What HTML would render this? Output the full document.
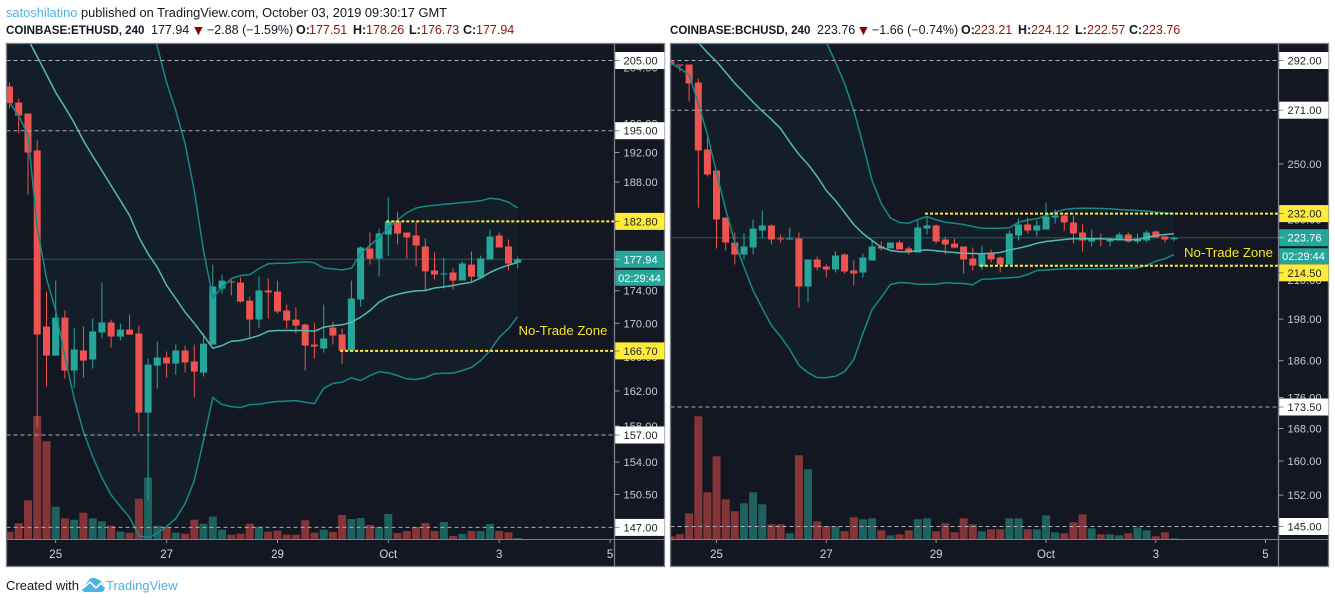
<!DOCTYPE html>
<html lang="en">
<head>
<meta charset="utf-8">
<title>ETHUSD and BCHUSD charts</title>
<style>
html,body{margin:0;padding:0;background:#fff;width:1335px;height:603px;overflow:hidden}
svg{display:block;font-family:"Liberation Sans",sans-serif}
.hd{font-size:12.5px;fill:#131722}
.hb{font-weight:bold;font-size:12.5px;fill:#131722}
.hs{font-weight:bold;font-size:11.6px;fill:#131722}
.hr{fill:#990f0f;font-size:12.5px}
.ha{fill:#8b0000;font-size:14px}
</style>
</head>
<body>
<svg id="root" width="1335" height="603" viewBox="0 0 1335 603">
  <text x="6" y="17" class="hd" style="font-size:12.85px"><tspan fill="#4db2e6">satoshilatino</tspan> published on TradingView.com, October 03, 2019 09:30:17 GMT</text>

  <g>
    <text x="6" y="34" class="hs">COINBASE:ETHUSD, 240</text>
    <text x="151" y="34" class="hd">177.94</text>
    <text x="191.5" y="35" class="ha">▼</text>
    <text x="207" y="34" class="hd">−2.88 (−1.59%)</text>
    <text x="296" y="34" class="hb">O:</text>
    <text x="309" y="34" class="hr">177.51</text>
    <text x="353" y="34" class="hb">H:</text>
    <text x="366" y="34" class="hr">178.26</text>
    <text x="409" y="34" class="hb">L:</text>
    <text x="421" y="34" class="hr">176.73</text>
    <text x="463" y="34" class="hb">C:</text>
    <text x="476" y="34" class="hr">177.94</text>
  </g>
  <g>
    <text x="670" y="34" class="hs">COINBASE:BCHUSD, 240</text>
    <text x="817" y="34" class="hd">223.76</text>
    <text x="856.5" y="35" class="ha">▼</text>
    <text x="872" y="34" class="hd">−1.66 (−0.74%)</text>
    <text x="961" y="34" class="hb">O:</text>
    <text x="974" y="34" class="hr">223.21</text>
    <text x="1018" y="34" class="hb">H:</text>
    <text x="1031" y="34" class="hr">224.12</text>
    <text x="1075" y="34" class="hb">L:</text>
    <text x="1087" y="34" class="hr">222.57</text>
    <text x="1129" y="34" class="hb">C:</text>
    <text x="1142" y="34" class="hr">223.76</text>
  </g>

  <defs>
    <clipPath id="clip-eth"><rect x="7" y="44" width="607.5" height="495"/></clipPath>
    <clipPath id="clip-bch"><rect x="671" y="44" width="607" height="495"/></clipPath>
  </defs>

  <g id="eth-chart"></g>
  <g id="bch-chart"></g>

  <text x="6" y="590" style="font-size:13px" fill="#131722">Created with</text>
  <g>
    <path d="M82 589 L88 581 Q92 576 97 579 Q103 581 105 587 Q105 592 100 592 L86 592 Q82 592 82 589 Z" fill="#4db2e6"/>
    <path d="M82 589 L90 582 L96 588 L101 583 L105 587" fill="none" stroke="#fff" stroke-width="1.6"/>
  </g>
  <text x="106" y="590" style="font-size:13px" fill="#4db2e6">TradingView</text>
</svg>

<script>
// ---------- ETHUSD data ----------
const ethOpen  = [201.24,198.96,197.41,192.27,169.61,166.14,170.70,164.38,166.74,165.67,168.89,170.10,168.41,169.25,168.77,159.53,164.96,165.91,165.20,166.74,165.44,164.15,167.45,174.27,175.14,175.01,172.78,170.46,174.02,173.90,171.56,170.46,169.85,167.45,166.98,169.49,168.65,166.74,172.90,179.31,178.03,181.10,182.78,181.36,180.97,179.56,176.52,176.02,176.27,175.26,177.27,175.64,177.91,180.97,179.56,177.51];
const ethClose = [198.86,197.12,192.00,168.65,166.14,170.70,164.38,166.86,165.55,169.01,170.10,168.41,169.25,168.65,159.53,165.08,165.91,165.20,166.74,165.32,164.26,167.57,174.51,175.26,175.01,172.66,170.46,174.02,173.77,171.44,170.34,169.73,167.33,167.21,168.17,168.53,166.74,173.03,179.43,178.03,181.23,182.78,181.23,180.72,179.69,176.40,176.02,176.14,175.26,177.40,175.76,178.03,180.84,179.43,177.40,177.94];
const ethHigh  = [201.81,199.53,197.41,193.64,173.90,175.26,171.56,169.49,169.61,170.58,175.01,170.46,169.98,171.07,169.73,165.79,167.81,166.62,167.45,167.33,167.45,168.77,177.28,176.02,175.39,175.64,173.27,175.76,175.51,175.26,172.29,171.92,169.98,170.10,172.29,170.22,169.37,175.26,179.56,181.36,181.88,185.94,184.09,181.36,182.78,180.59,178.80,178.16,176.77,177.65,178.92,178.41,181.75,181.36,180.46,178.26];
const ethLow   = [198.11,194.62,186.34,157.84,162.51,166.14,163.44,162.40,163.56,164.61,168.17,167.10,167.93,168.65,157.28,149.84,162.28,163.56,163.91,164.15,161.24,163.68,167.45,173.65,173.40,172.54,168.29,169.49,170.58,171.20,169.37,168.77,164.38,165.79,166.50,167.45,165.20,166.74,172.05,177.27,175.76,178.41,179.82,178.03,177.02,173.90,175.39,174.27,174.14,175.26,175.14,175.64,177.91,179.43,176.52,176.73];
const ethVolume = [730,1570,3870,12300,9770,3230,2070,1930,2630,2070,1770,1330,730,630,4030,6130,1330,1130,630,530,1930,1530,2230,930,430,530,1530,1230,730,830,430,430,1870,630,930,700,2400,2000,2100,1400,1200,2500,600,800,1200,1600,800,1700,300,500,800,800,1500,800,670,100];
const ethUpper = [null,null,null,null,null,null,null,null,null,null,null,null,null,null,null,212.4,207.05,201.81,197.83,193.2,186.87,179.05,173.15,174.39,175.51,175.89,175.98,176.77,177.36,177.44,177.44,177.53,177.62,177.49,176.85,176.72,176.6,176.8,178.65,179.69,180.76,181.96,183.0,183.94,184.55,184.78,184.92,185.05,185.15,185.28,185.37,185.5,185.83,185.7,185.33,184.55];
const ethMiddle = [null,null,208.1,205.58,202.97,200.38,198.3,196.1,193.64,191.5,189.55,187.53,185.54,183.57,180.75,178.62,176.93,174.66,173.02,171.36,170.0,168.53,167.02,167.33,167.85,167.93,168.2,168.53,169.05,169.13,169.13,169.13,169.13,169.05,169.53,169.73,169.82,170.13,170.74,171.56,172.59,173.21,173.55,173.8,173.97,174.02,174.34,174.47,174.65,174.87,175.06,175.58,176.28,176.8,177.2,177.54];
const ethLower = [198.92,197.12,194.33,182.03,175.51,171.56,166.0,161.13,157.39,154.6,152.3,150.45,149.2,148.04,146.14,145.93,146.4,147.1,147.93,149.52,151.99,156.38,161.24,160.44,160.21,160.1,160.44,160.47,160.67,160.79,160.84,160.9,160.7,160.56,162.32,162.87,163.02,163.53,163.21,163.79,164.23,164.11,163.79,163.41,163.33,163.56,164.0,164.06,164.07,164.38,164.74,165.55,166.74,168.29,169.37,170.81];
const ethPriceTicks = [204,196,192,188,174,170,166,162,158,154,150.5];
const ethLevels = [205,195,157,147];
const ethZonePrices = [182.8,166.7];
const ethZoneStarts = [41,36];
const ethLastPrice = 177.94;
const ethCountdown = '02:29:44';

// ---------- BCHUSD data ----------
const bchOpen  = [291.56,290.25,290.25,282.50,255.45,247.52,230.64,222.14,218.18,220.48,226.19,227.89,223.48,223.14,223.48,207.93,216.54,214.28,213.32,218.18,213.00,212.36,216.22,220.81,220.15,222.14,220.15,218.83,226.87,227.89,223.14,221.80,220.81,216.87,214.28,218.50,217.20,214.93,224.50,228.24,226.19,226.53,230.64,231.35,228.92,225.51,222.47,223.48,222.47,222.81,224.84,222.47,222.81,225.85,224.16,223.21];
const bchClose = [290.25,289.82,282.07,255.07,246.04,229.95,222.14,218.18,220.81,226.87,227.89,223.14,223.14,223.48,207.93,216.54,213.96,213.32,217.85,212.68,212.04,217.20,220.81,220.15,222.14,219.82,218.83,227.21,227.89,222.47,221.47,220.48,216.54,214.61,218.18,216.54,214.93,225.17,228.24,226.19,227.89,231.00,231.35,228.92,225.17,222.81,223.48,223.14,223.48,224.84,222.47,223.48,225.51,223.81,223.14,223.76];
const bchHigh  = [292.00,290.25,290.25,284.20,260.10,247.52,230.64,225.51,225.17,229.95,233.09,228.24,224.84,227.21,225.51,216.54,217.52,214.93,219.16,218.50,216.22,218.50,223.14,222.47,222.14,222.81,220.81,229.61,231.00,228.24,224.16,223.48,220.81,220.48,221.14,219.82,217.52,226.19,230.29,230.64,229.61,235.91,233.44,232.04,231.35,228.24,226.53,225.17,223.81,225.51,225.51,225.17,226.19,226.19,224.50,224.12];
const bchLow   = [289.82,287.22,274.56,234.14,245.31,220.15,219.49,214.93,216.54,218.18,223.48,221.47,222.14,223.14,201.48,203.00,213.00,210.77,212.36,212.04,208.25,210.77,216.22,219.49,220.15,219.82,218.18,218.83,224.84,221.80,218.18,220.15,212.04,213.00,213.32,215.58,212.36,214.93,222.81,225.17,224.16,226.53,228.58,226.19,221.80,219.16,220.81,220.81,220.81,222.81,222.14,221.80,222.14,223.81,222.14,222.57];
const bchVolume = [270,470,2570,12270,4670,8270,3970,2770,3570,4670,3470,1470,1470,570,8370,6970,1770,1270,1270,770,2170,1970,2070,870,370,470,870,1970,2070,770,1570,670,2070,1470,770,970,970,2070,2070,970,970,2370,670,570,1670,2470,1070,470,470,370,570,1170,870,270,670,70];
const bchUpper = [null,null,null,null,null,null,null,null,null,null,null,null,null,null,null,null,null,300.1,291.26,282.07,270.87,257.6,243.83,235.54,230.53,228.92,228.68,229.95,231.0,229.84,229.02,228.68,228.24,227.55,226.97,226.97,226.97,227.1,229.02,229.78,230.19,231.35,232.5,233.44,233.79,233.9,233.9,233.79,233.69,233.44,233.26,233.09,232.9,232.5,232.2,231.93];
const bchMiddle = [null,null,null,300,295.5,291.56,286.9,282.2,278.3,274.3,270.6,267.3,263.6,258.3,253.6,249.8,245.3,240.2,236.6,232.4,228.24,225.17,222.81,220.6,219.49,219.06,219.06,219.4,219.7,219.4,219.06,218.83,218.6,218.5,218.4,218.6,218.83,219.6,220.26,220.98,221.9,222.47,222.81,223.14,223.38,223.38,223.38,223.38,223.25,223.14,223.04,223.04,223.9,224.5,224.84,225.07];
const bchLower = [290.82,288.52,285.76,273.7,261.25,246.8,233.44,222.14,214.09,206.69,201.18,196.14,192.88,189.14,184.76,182.7,181.34,181.34,181.7,182.98,186.32,193.75,200.87,204.6,208.57,209.2,209.04,208.66,208.66,208.66,209.1,208.97,208.88,208.47,210.23,210.29,210.54,210.67,210.86,211.72,213.0,213.16,213.32,213.54,213.54,213.54,213.54,213.54,213.54,213.64,213.74,213.87,214.61,216.0,216.78,218.18];
const bchPriceTicks = [250,230,210,198,186,176,168,160,152];
const bchLevels = [292,271,173.5,145];
const bchZonePrices = [232,214.5];
const bchZoneStarts = [28,34];
const bchLastPrice = 223.76;
const bchCountdown = '02:29:44';

// ---------- shared time axis ----------
const dateLabels = ['25','27','29','Oct','3','5'];
const dateBarIndex = [5,17,29,41,53,65];

const zoneLabel = 'No-Trade Zone';

// ---------- axis functions ----------
function yEth(p){ return 60.5 + 1404 * Math.log(205 / p); }
function xEth(i){ return 9.5 + 9.24 * i; }
function yBch(p){ return 60.5 + 665.7 * Math.log(292 / p); }
function xBch(i){ return 670.8 + 9.15 * i; }
function yVolume(v){ return 539 - v / 100; }

const NS = 'http://www.w3.org/2000/svg';
function node(parent, tag, attrs, txt){
  const el = document.createElementNS(NS, tag);
  for (const k in attrs) el.setAttribute(k, attrs[k]);
  if (txt !== undefined) el.textContent = txt;
  parent.appendChild(el);
  return el;
}
function linePath(vals, x, y){
  let d = '';
  vals.forEach(function(v, i){
    if (v === null) return;
    d += (d ? 'L' : 'M') + x(i).toFixed(1) + ' ' + y(v).toFixed(1);
  });
  return d;
}
function bandFill(up, low, x, y, top){
  let d = 'M' + (x(0) - 4).toFixed(1) + ' ' + top;
  up.forEach(function(v, i){
    const py = v === null ? top : y(v);
    d += 'L' + x(i).toFixed(1) + ' ' + py.toFixed(1);
  });
  for (let i = low.length - 1; i >= 0; i--) {
    d += 'L' + x(i).toFixed(1) + ' ' + y(low[i]).toFixed(1);
  }
  d += 'L' + (x(0) - 4).toFixed(1) + ' ' + y(low[0]).toFixed(1);
  return d + 'Z';
}

function drawChart(c){
  const root = document.getElementById(c.id);

  const bg = node(root, 'rect', {x:c.left, y:43.5, width:c.right - c.left, height:523, fill:'#131722'});
  
  

  const plot = node(root, 'g', {'clip-path':'url(#' + c.clip + ')'});
  
  

  const fill = node(plot, 'path', {d:bandFill(c.upper, c.lower, c.x, c.y, 40), fill:'#131e28'});
  
  

  c.volume.forEach(function(v, i){
    const up = c.close[i] >= c.open[i];
    const bar = node(plot, 'rect', {x:(c.x(i) - 4).toFixed(1), y:yVolume(v).toFixed(1), width:8, height:(539 - yVolume(v)).toFixed(1), fill: up ? '#1f615f' : '#853537'});
    
    
  });

  const last = node(plot, 'line', {x1:c.left, x2:c.axis, y1:c.y(c.lastPrice), y2:c.y(c.lastPrice), stroke:'#235c5c', 'stroke-width':1});
  
  

  c.open.forEach(function(o, i){
    const up = c.close[i] >= o;
    const col = up ? '#26a69a' : '#ef5350';
    const wick = node(plot, 'line', {x1:c.x(i).toFixed(1), x2:c.x(i).toFixed(1), y1:c.y(c.high[i]).toFixed(1), y2:c.y(c.low[i]).toFixed(1), stroke:col, 'stroke-width':1});
    
    
    const top = c.y(Math.max(o, c.close[i]));
    const bot = c.y(Math.min(o, c.close[i]));
    const body = node(plot, 'rect', {x:(c.x(i) - 3.5).toFixed(1), y:top.toFixed(1), width:7, height:Math.max(1, bot - top).toFixed(1), fill:col});
    
    
  });

  const upperLine = node(plot, 'path', {d:linePath(c.upper, c.x, c.y), fill:'none', stroke:'#138a88', 'stroke-width':1.5});
  
  
  const lowerLine = node(plot, 'path', {d:linePath(c.lower, c.x, c.y), fill:'none', stroke:'#138a88', 'stroke-width':1.5});
  
  
  const midLine = node(plot, 'path', {d:linePath(c.middle, c.x, c.y), fill:'none', stroke:'#50bcb0', 'stroke-width':1.5});
  
  

  c.levels.forEach(function(p){
    const lv = node(plot, 'line', {x1:c.left, x2:c.axis, y1:c.y(p).toFixed(1), y2:c.y(p).toFixed(1), stroke:'#a9acb5', 'stroke-width':1, 'stroke-dasharray':'4 3'});
    
    
  });

  c.zonePrices.forEach(function(p, k){
    const z = node(plot, 'line', {x1:(c.x(c.zoneStarts[k]) - 2).toFixed(1), x2:c.axis, y1:c.y(p).toFixed(1), y2:c.y(p).toFixed(1), stroke:'#ffeb3b', 'stroke-width':2, 'stroke-dasharray':'3 2'});
    
    
  });

  // frame and axes
  const frame = node(root, 'rect', {x:c.left, y:43.5, width:c.right - c.left, height:523, fill:'none', stroke:'#7b7e86', 'stroke-width':1.3});
  
  
  const yAxisLine = node(root, 'line', {x1:c.axis, x2:c.axis, y1:44, y2:566, stroke:'#7b7e86', 'stroke-width':1.3});
  
  
  const xAxisLine = node(root, 'line', {x1:c.left, x2:c.right, y1:539.5, y2:539.5, stroke:'#7b7e86', 'stroke-width':1});
  
  

  // time axis
  dateLabels.forEach(function(lbl, k){
    const tx = c.x(dateBarIndex[k]);
    const t = node(root, 'line', {x1:tx.toFixed(1), x2:tx.toFixed(1), y1:540, y2:543, stroke:'#9598a1', 'stroke-width':1});
    
    
    const tl = node(root, 'text', {x:tx.toFixed(1), y:558, 'text-anchor':'middle', 'font-size':11.5, fill:'#d1d4dc'}, lbl);
    
    
  });

  // price axis
  c.ticks.forEach(function(p){
    const py = c.y(p);
    const t = node(root, 'line', {x1:c.axis, x2:c.axis + 5, y1:py.toFixed(1), y2:py.toFixed(1), stroke:'#9598a1', 'stroke-width':1});
    
    
    const tl = node(root, 'text', {x:c.axis + 9, y:(py + 4).toFixed(1), 'font-size':11, fill:'#c8cad1', 'letter-spacing':'0.1'}, p.toFixed(2));
    
    
  });

  function priceBox(p, bgCol, fgCol, name, shift){
    const py = c.y(p) + (shift || 0);
    const r = node(root, 'rect', {x:c.axis + 0.7, y:(py - 8.5).toFixed(1), width:c.right - c.axis - 0.7, height:17, fill:bgCol});
    
    
    const t = node(root, 'line', {x1:c.axis, x2:c.axis + 5, y1:py.toFixed(1), y2:py.toFixed(1), stroke:fgCol, 'stroke-width':1, opacity:0.5});
    
    
    const l = node(root, 'text', {x:c.axis + 9, y:(py + 4).toFixed(1), 'font-size':11, fill:fgCol, 'letter-spacing':'0.1'}, p.toFixed(2));
    
    
  }
  c.levels.forEach(function(p){ priceBox(p, '#ffffff', '#222', c.sym + '-level-label'); });
  priceBox(c.lastPrice, '#26a69a', '#ffffff', c.sym + '-last-price-label');

  const cy = c.y(c.lastPrice) + 18.5;
  const cb = node(root, 'rect', {x:c.axis + 0.7, y:(cy - 8).toFixed(1), width:c.right - c.axis - 0.7, height:16, fill:'#26a69a'});
  
  
  const ct = node(root, 'text', {x:(c.axis + c.right) / 2, y:(cy + 4).toFixed(1), 'text-anchor':'middle', 'font-size':11, fill:'#ffffff'}, c.countdown);
  
  

  c.zonePrices.forEach(function(p, k){ priceBox(p, '#ffeb3b', '#222', c.sym + '-zone-label', c.zoneLabelShift[k]); });

  const nz = node(root, 'text', {x:c.zoneX, y:c.zoneY, 'font-size':13.2, fill:'#f5e626'}, zoneLabel);
  
  
}

drawChart({id:'eth-chart', sym:'eth', clip:'clip-eth', left:6.5, right:664.5, axis:614.5, x:xEth, y:yEth,
  open:ethOpen, close:ethClose, high:ethHigh, low:ethLow, volume:ethVolume,
  upper:ethUpper, middle:ethMiddle, lower:ethLower, ticks:ethPriceTicks, levels:ethLevels,
  zonePrices:ethZonePrices, zoneStarts:ethZoneStarts, zoneLabelShift:[0,0], lastPrice:ethLastPrice, countdown:ethCountdown,
  zoneX:518.5, zoneY:335});

drawChart({id:'bch-chart', sym:'bch', clip:'clip-bch', left:670.5, right:1328.5, axis:1278.5, x:xBch, y:yBch,
  open:bchOpen, close:bchClose, high:bchHigh, low:bchLow, volume:bchVolume,
  upper:bchUpper, middle:bchMiddle, lower:bchLower, ticks:bchPriceTicks, levels:bchLevels,
  zonePrices:bchZonePrices, zoneStarts:bchZoneStarts, zoneLabelShift:[0,7], lastPrice:bchLastPrice, countdown:bchCountdown,
  zoneX:1184, zoneY:257});
</script>
</body>
</html>
